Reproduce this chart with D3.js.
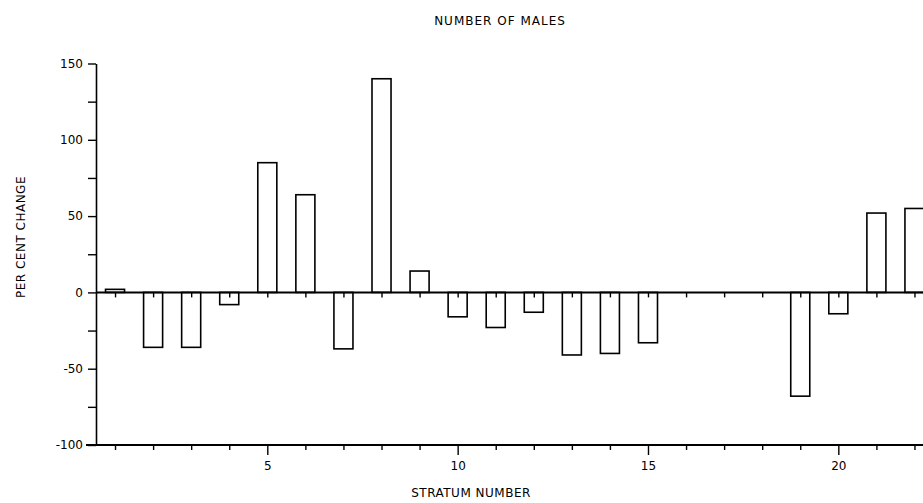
<!DOCTYPE html>
<html lang="en">
<head>
    <meta charset="UTF-8">
    <title>Number of males</title>
    <script src="https://d3js.org/d3.v7.min.js"></script>
    <style>
        body { margin: 0; background: #fff; }
        text { font-family: "DejaVu Sans", sans-serif; fill: #000; }
    </style>
</head>
<body>
<div id="chart"></div>
<script>
    // strata 1..22 and per cent change in number of males
    let strata = d3.range(1, 23),
        change = [2, -36, -36, -8, 85, 64, -37, 140, 14, -16, -23, -13,
                  -41, -40, -33, 0, 0, 0, -68, -14, 52, 55],
        yTicks = [-100, -75, -50, -25, 0, 25, 50, 75, 100, 125, 150],
        xMajor = [5, 10, 15, 20],
        title = "NUMBER OF MALES",
        xTitle = "STRATUM NUMBER",
        yTitle = "PER CENT CHANGE";

    let width = 923, height = 503,
        x = d3.scaleLinear().domain([0.5, 22.5]).range([96, 933.5]),
        y = d3.scaleLinear().domain([-100, 150]).range([445, 63.5]),
        barW = x(1.5) - x(1);

    let svg = d3.select('#chart').append('svg')
        .attr('width', width).attr('height', height)
        .style('display', 'block');

    svg.append('text').text(title)
        .attr('x', 500).attr('y', 25)
        .attr('text-anchor', 'middle')
        .style('font-size', '12px').style('letter-spacing', '1px');

    // bars
    svg.append('g').selectAll('rect').data(strata).join('rect')
        .attr('x', d => x(d) - barW / 2)
        .attr('y', (d, i) => y(Math.max(0, change[i])))
        .attr('width', barW)
        .attr('height', (d, i) => Math.abs(y(change[i]) - y(0)))
        .attr('fill', 'white').attr('stroke', 'black').attr('stroke-width', 1.6);

    // zero line with ticks
    let zero = svg.append('g').attr('transform', `translate(0,${y(0)})`)
        .call(d3.axisBottom(x).tickValues(strata).tickSize(5).tickFormat('').tickSizeOuter(0));
    zero.select('.domain').attr('stroke-width', 2).attr('d', `M${x.range()[0]},0H${width}`);
    zero.selectAll('line').attr('stroke-width', 1.4);

    // left axis
    let ax = svg.append('g').attr('transform', `translate(${x.range()[0]},0)`)
        .call(d3.axisLeft(y).tickValues(yTicks).tickSize(8).tickSizeOuter(0)
            .tickFormat(d => d % 50 === 0 ? d : ''));
    ax.select('.domain').attr('stroke-width', 1.6);
    ax.selectAll('line').attr('stroke-width', 1.4);
    ax.selectAll('text').style('font-size', '12px').attr('x', -13);

    // bottom axis
    let bx = svg.append('g').attr('transform', `translate(0,${y(-100)})`)
        .call(d3.axisBottom(x).tickValues(strata).tickSize(5).tickSizeOuter(0)
            .tickFormat(d => xMajor.includes(d) ? d : ''));
    bx.select('.domain').attr('stroke-width', 2).attr('d', `M86,0H${width}`);
    bx.selectAll('.tick line').attr('stroke-width', 1.4)
        .attr('y2', d => xMajor.includes(d) ? 10 : 5);
    bx.selectAll('text').style('font-size', '12px').attr('y', 16);

    svg.append('text').text(xTitle)
        .attr('x', 471).attr('y', 497)
        .attr('text-anchor', 'middle')
        .style('font-size', '12px').style('letter-spacing', '0.5px');

    svg.append('text').text(yTitle)
        .attr('transform', `translate(25,237) rotate(-90)`)
        .attr('text-anchor', 'middle')
        .style('font-size', '12px').style('letter-spacing', '0.5px');
</script>
</body>
</html>
